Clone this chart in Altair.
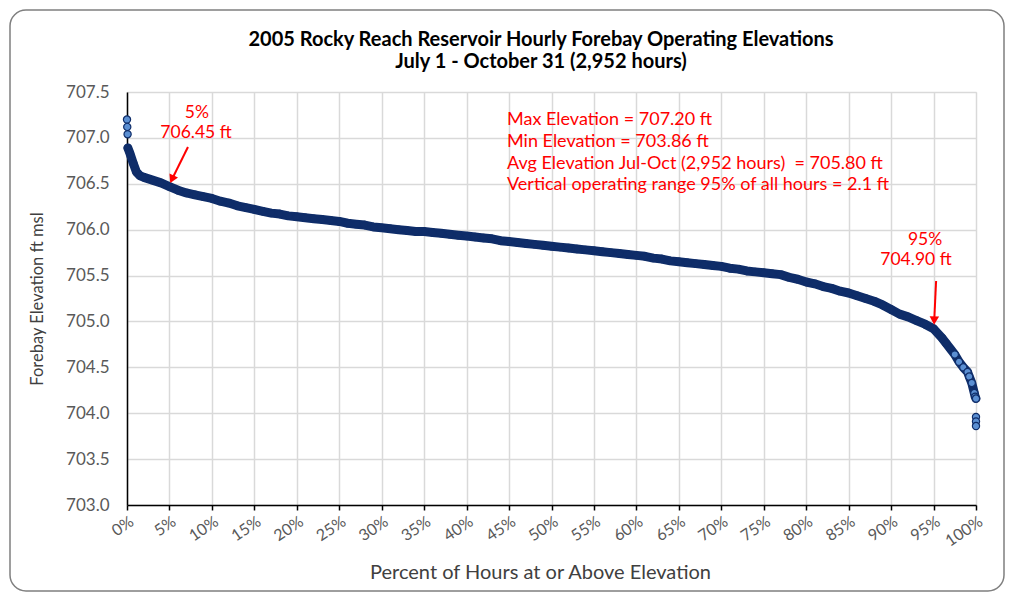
import altair as alt
import pandas as pd

# ---- data ----
pct = [0, 0.03, 0.07, 0.1, 0.35, 0.75, 1.1, 1.5, 2, 3, 4, 5, 6, 7, 8, 9, 10,
       11, 12, 13, 14, 15, 16, 17, 18, 19, 20, 21, 22, 23, 24, 25, 26, 27, 28, 29, 30,
       31, 32, 33, 34, 35, 36, 37, 38, 39, 40, 41, 42, 43, 44, 45, 46, 47, 48, 49, 50,
       51, 52, 53, 54, 55, 56, 57, 58, 59, 60, 61, 62, 63, 64, 65, 66, 67, 68, 69, 70,
       71, 72, 73, 74, 75, 76, 77, 78, 79, 80, 81, 82, 83, 84, 85, 86, 87, 88, 89, 90,
       91, 92, 93, 94, 95, 96, 96.5, 97, 97.5, 98, 98.5, 99, 99.2, 99.5, 99.8, 99.9, 100,
       100, 100, 100]
elev = [707.20, 707.12, 707.04, 706.89, 706.83, 706.72, 706.63, 706.59, 706.57, 706.54, 706.51, 706.47, 706.43, 706.40, 706.38, 706.36, 706.34,
        706.31, 706.29, 706.26, 706.24, 706.22, 706.20, 706.18, 706.17, 706.15, 706.14, 706.13, 706.12, 706.11, 706.10, 706.09, 706.07, 706.06, 706.05, 706.03, 706.02,
        706.01, 706.00, 705.99, 705.98, 705.98, 705.97, 705.96, 705.95, 705.94, 705.93, 705.92, 705.91, 705.90, 705.88, 705.87, 705.86, 705.85, 705.84, 705.83, 705.82,
        705.81, 705.80, 705.79, 705.78, 705.77, 705.76, 705.75, 705.74, 705.73, 705.72, 705.71, 705.69, 705.68, 705.66, 705.65, 705.64, 705.63, 705.62, 705.61, 705.60,
        705.58, 705.57, 705.55, 705.54, 705.53, 705.52, 705.51, 705.48, 705.46, 705.43, 705.41, 705.38, 705.36, 705.33, 705.31, 705.28, 705.25, 705.22, 705.18, 705.13,
        705.08, 705.05, 705.01, 704.97, 704.92, 704.82, 704.76, 704.70, 704.64, 704.56, 704.50, 704.45, 704.40, 704.33, 704.22, 704.18, 704.16,
        703.96, 703.91, 703.86]

title_lines = ["2005 Rocky Reach Reservoir Hourly Forebay Operating Elevations",
               "July 1 - October 31 (2,952 hours)"]
x_ticks = list(range(0, 101, 5))
y_ticks = [703.0, 703.5, 704.0, 704.5, 705.0, 705.5, 706.0, 706.5, 707.0, 707.5]

stat_lines = ["Max Elevation = 707.20 ft",
              "Min Elevation = 703.86 ft",
              "Avg Elevation Jul-Oct (2,952 hours)\u00a0 = 705.80 ft",
              "Vertical operating range 95% of all hours = 2.1 ft"]
stat_x = [44.76, 44.76, 44.76, 44.76]
stat_y = [707.19, 706.96, 706.72, 706.49]

ann_text = ["5%", "706.45 ft", "95%", "704.90 ft"]
ann_x = [8.24, 8.13, 94.0, 92.93]
ann_y = [707.27, 707.05, 705.89, 705.67]

arrow_x = [7.18, 95.3]
arrow_y = [706.90, 705.44]
arrow_x2 = [5.3, 95.08]
arrow_y2 = [706.55, 705.01]
head_angle = [25, 2]

RED = "#ff0000"
NAVY = "#0f2d69"
BLUE = "#5b8fd2"
FONT = "Lato"

df = pd.DataFrame({"pct": pct, "elev": elev})
stats = pd.DataFrame({"t": stat_lines, "pct": stat_x, "elev": stat_y})
ann = pd.DataFrame({"t": ann_text, "pct": ann_x, "elev": ann_y})
arrows = pd.DataFrame({"pct": arrow_x, "elev": arrow_y, "x2": arrow_x2, "y2": arrow_y2})
heads_df = pd.DataFrame({"pct": arrow_x2, "elev": arrow_y2, "a": head_angle})

xs = alt.Scale(domain=[0, 100], nice=False, zero=False)
ys = alt.Scale(domain=[703, 707.5], nice=False, zero=False)

X = alt.X("pct:Q", scale=xs, title="Percent of Hours at or Above Elevation",
          axis=alt.Axis(values=x_ticks, labelExpr="datum.value + '%'", labelAngle=326,
                        labelAlign="right", labelBaseline="top", labelFontSize=16,
                        labelOverlap=False, labelBound=False, labelFlush=False,
                        labelColor="#595959", labelFont=FONT, labelPadding=3,
                        tickSize=5, tickColor="#000", tickWidth=1.5,
                        domainColor="#000", domainWidth=1.5,
                        gridColor="#d9d9d9", gridWidth=1.5,
                        titleFont=FONT, titleFontSize=20, titleFontWeight="normal",
                        titleColor="#404040", titleX=413, titlePadding=13))
Y = alt.Y("elev:Q", scale=ys, title="Forebay Elevation ft msl",
          axis=alt.Axis(values=y_ticks, format=".1f", labelFontSize=17,
                        labelOverlap=False, labelFlush=False,
                        labelColor="#595959", labelFont=FONT, labelPadding=18,
                        ticks=False, domainColor="#000", domainWidth=1.5,
                        gridColor="#d9d9d9", gridWidth=1.5,
                        titleFont=FONT, titleFontSize=16.5, titleFontWeight="normal",
                        titleColor="#404040", titlePadding=20))

W, H = 849, 413

border = alt.Chart(pd.DataFrame({"k": [0]})).mark_rect(
    fillOpacity=0, stroke="#7f7f7f", strokeWidth=1.5, cornerRadius=16
).encode(x=alt.value(-117), x2=alt.value(877), y=alt.value(-82), y2=alt.value(499))

title1 = alt.Chart(pd.DataFrame({"k": [0]})).mark_text(
    text=title_lines[0], font=FONT, fontSize=20, fontWeight="bold", color="#000",
    align="center", baseline="middle").encode(x=alt.value(414), y=alt.value(-52))
title2 = alt.Chart(pd.DataFrame({"k": [0]})).mark_text(
    text=title_lines[1], font=FONT, fontSize=20, fontWeight="bold", color="#000",
    align="center", baseline="middle").encode(x=alt.value(414), y=alt.value(-30))

line = alt.Chart(df).transform_filter(
    "datum.elev < 706.95 && datum.elev > 704.1"
).mark_line(color=NAVY, strokeWidth=9, strokeJoin="round", strokeCap="round").encode(x=X, y=Y)

points = alt.Chart(df).mark_point(filled=True, size=52, stroke=NAVY, strokeWidth=1.2, opacity=1).encode(
    x=X, y=Y,
    fill=alt.condition("datum.elev >= 706.95 || datum.pct >= 97.5", alt.value(BLUE), alt.value(NAVY)),
)

arrow_lines = alt.Chart(arrows).mark_rule(color=RED, strokeWidth=2).encode(
    x=X, y=Y, x2="x2:Q", y2="y2:Q")

heads = alt.Chart(heads_df).mark_point(shape="triangle-down", filled=True, color=RED, size=90, opacity=1).encode(
    x=X, y=Y, angle=alt.Angle("a:Q", scale=None))

stat_text = alt.Chart(stats).mark_text(align="left", baseline="middle", color=RED,
                                       font=FONT, fontSize=18).encode(x=X, y=Y, text="t:N")

ann_text_l = alt.Chart(ann).mark_text(align="center", baseline="middle", color=RED,
                                      font=FONT, fontSize=17.5).encode(x=X, y=Y, text="t:N")

chart = alt.layer(border, title1, title2, line, points, arrow_lines, heads, stat_text, ann_text_l).properties(
    width=W, height=H,
    autosize=alt.AutoSizeParams(type="none"),
    padding={"left": 119, "top": 84, "right": 29, "bottom": 88},
).configure_view(strokeWidth=0).configure(background="white")

chart.save("out.html", embed_options={"renderer": "svg", "actions": False})
